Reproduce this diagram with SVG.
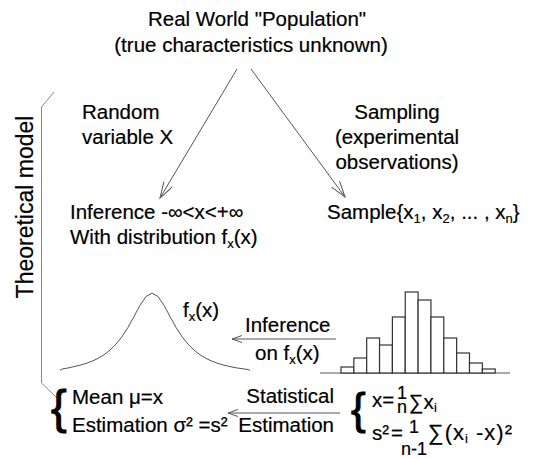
<svg xmlns="http://www.w3.org/2000/svg" width="545" height="459" viewBox="0 0 545 459">
<style>
text{font-family:"Liberation Sans",Arial,sans-serif;font-size:20.5px;fill:#000;stroke:#000;stroke-width:0.2}
.sm{font-size:13px}
.fr{font-size:18px}
.ln{fill:none;stroke:#555;stroke-width:1}
.br{fill:none;stroke:#888;stroke-width:1}
.hist{fill:#fff;stroke:#333;stroke-width:1.2}
</style>
<defs>
<marker id="ah" markerUnits="userSpaceOnUse" markerWidth="18" markerHeight="12" refX="16" refY="5" orient="auto">
<path d="M0,0 L16,5 L0,10" fill="none" stroke="#555" stroke-width="1"/>
</marker>
<marker id="ahs" markerUnits="userSpaceOnUse" markerWidth="12" markerHeight="8" refX="10" refY="3.5" orient="auto">
<path d="M0,0 L10,3.5 L0,7" fill="none" stroke="#555" stroke-width="1"/>
</marker>
</defs>

<g id="population">
<text x="257" y="26" text-anchor="middle">Real World "Population"</text>
<text x="251" y="52" text-anchor="middle">(true characteristics unknown)</text>
</g>

<g id="random-variable">
<text x="82" y="119">Random</text>
<text x="82" y="144">variable X</text>
</g>

<g id="sampling-label">
<text x="397" y="119" text-anchor="middle">Sampling</text>
<text x="397" y="144" text-anchor="middle">(experimental</text>
<text x="397" y="169" text-anchor="middle">observations)</text>
</g>

<g id="inference-node">
<text x="70" y="219">Inference -∞&lt;x&lt;+∞</text>
<text x="70" y="244">With distribution f<tspan class="sm" dy="4">x</tspan><tspan dy="-4">(x)</tspan></text>
</g>

<g id="sample-node">
<text x="327" y="219">Sample{x<tspan class="sm" dy="4">1</tspan><tspan dy="-4">, x</tspan><tspan class="sm" dy="4">2</tspan><tspan dy="-4">, ... , x</tspan><tspan class="sm" dy="4">n</tspan><tspan dy="-4">}</tspan></text>
</g>

<g id="theoretical-model">
<path class="br" d="M54,92 L41.5,107 L41.5,383 L57,398"/>
<text transform="translate(33,207) rotate(-90)" text-anchor="middle" style="font-size:23px">Theoretical model</text>
</g>

<g id="distribution">
<polyline class="ln" points="60,370.5 62,369 68,368 74,366.6 80,365.2 86,363.4 92,361.2 98,358.4 104,354.8 110,350.1 116,344.2 122,336.7 128,327.4 134,316.5 140,305.4 146,296.5 152,293 158,296.5 164,305.4 170,316.5 176,327.4 182,336.7 188,344.2 194,350.1 200,354.8 206,358.4 212,361.2 218,363.4 224,365.2 230,366.6 236,367.8 242,368.7 248,369.5 250,370.5"/>
<text x="183" y="317">f<tspan class="sm" dy="4">x</tspan><tspan dy="-4">(x)</tspan></text>
</g>

<g id="histogram">
<line x1="320" y1="373" x2="510" y2="373" stroke="#555" stroke-width="1"/>
<rect class="hist" x="341" y="367" width="12.85" height="6"/>
<rect class="hist" x="353.85" y="358" width="12.85" height="15"/>
<rect class="hist" x="366.7" y="338" width="12.85" height="35"/>
<rect class="hist" x="379.55" y="345" width="12.85" height="28"/>
<rect class="hist" x="392.4" y="317" width="12.85" height="56"/>
<rect class="hist" x="405.25" y="292" width="12.85" height="81"/>
<rect class="hist" x="418.1" y="300" width="12.85" height="73"/>
<rect class="hist" x="430.95" y="317" width="12.85" height="56"/>
<rect class="hist" x="443.8" y="338" width="12.85" height="35"/>
<rect class="hist" x="456.65" y="353" width="12.85" height="20"/>
<rect class="hist" x="469.5" y="363" width="12.85" height="10"/>
<rect class="hist" x="482.35" y="369" width="12.85" height="4"/>
</g>

<g id="inference-label">
<text x="245" y="332">Inference</text>
<text x="255" y="360">on f<tspan class="sm" dy="4">x</tspan><tspan dy="-4">(x)</tspan></text>
</g>

<g id="estimates">
<text x="51" y="423" style="font-size:47px;stroke-width:1">{</text>
<text x="72" y="404">Mean μ=x</text>
<text x="72" y="432">Estimation σ² =s²</text>
</g>

<g id="estimation-label">
<text x="334" y="403" text-anchor="end">Statistical</text>
<text x="334" y="432" text-anchor="end">Estimation</text>
</g>

<g id="sample-stats">
<text x="351" y="424" style="font-size:44px;stroke-width:1">{</text>
<text x="372" y="407">x=</text>
<text x="402" y="399" text-anchor="middle" class="fr">1</text>
<text x="402" y="413" text-anchor="middle" class="fr">n</text>
<text x="409" y="409">∑x<tspan class="sm" dy="3">i</tspan></text>
<text x="372" y="440">s²</text>
<text x="391" y="440">=</text>
<text x="414" y="433" text-anchor="middle" class="fr">1</text>
<text x="414" y="455" text-anchor="middle" class="fr">n-1</text>
<text x="428" y="440" style="font-size:22px;letter-spacing:1px">∑(x<tspan class="sm" dy="3">i</tspan><tspan dy="-3"> -x)²</tspan></text>
</g>

<g id="connectors">
<line class="ln" x1="237" y1="69" x2="160" y2="198" marker-end="url(#ah)"/>
<line class="ln" x1="251" y1="69" x2="345" y2="197" marker-end="url(#ah)"/>
<line class="ln" x1="336" y1="339" x2="232" y2="339" marker-end="url(#ahs)"/>
<line class="ln" x1="340" y1="413" x2="228" y2="413" marker-end="url(#ahs)"/>
</g>
</svg>
